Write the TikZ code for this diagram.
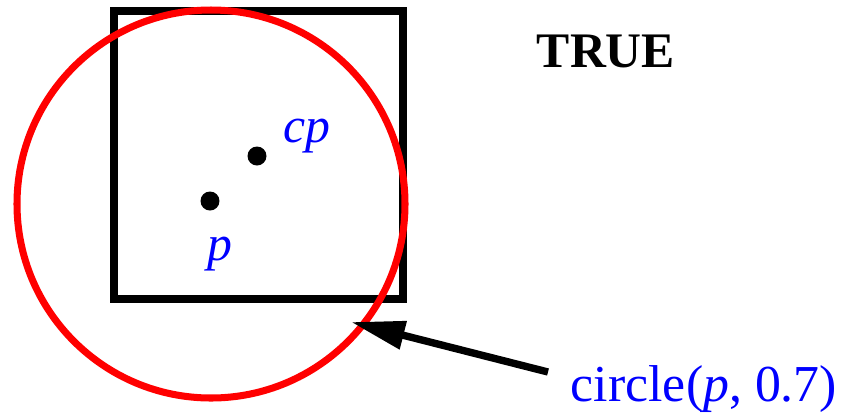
\documentclass[tikz,border=0pt]{standalone}
\usepackage{fontspec}
\setmainfont{Liberation Serif}
\usetikzlibrary{arrows.meta}
\definecolor{ptblue}{HTML}{0000FF}
\definecolor{ringred}{HTML}{FF0000}

\begin{document}
\begin{tikzpicture}[x=0.02cm,y=-0.02cm,>=Latex,
  dot/.style={circle,fill=black,inner sep=0pt,minimum size=0.38cm},
  lbl/.style={anchor=base,inner sep=0pt,font=\fontsize{28.3}{34}\selectfont}]
\useasboundingbox (0,0) rectangle (846,414);
\draw[line width=5pt] (114,11) rectangle (403,299);
\draw[ringred,line width=4pt] (211,204) circle[radius=194];
\node[dot] (p) at (210,201) {};
\node[dot] (cp) at (257,156) {};
\node[lbl,text=ptblue] (plbl) at (220,260) {\itshape p};
\node[lbl,text=ptblue] (cplbl) at (307,142) {\itshape cp};
\node[lbl] (true) at (606,67) {\bfseries TRUE};
\node[lbl,text=ptblue,font=\fontsize{29.5}{34}\selectfont] (call) at (704,401) {circle(\textit{p}, 0.7)};
\coordinate (tail) at (548,372);
\coordinate (hit) at (351,322);
\draw[-{Triangle[length=1.08cm,width=0.55cm]},line width=4.2pt] (tail)--(hit);
\end{tikzpicture}
\end{document}
